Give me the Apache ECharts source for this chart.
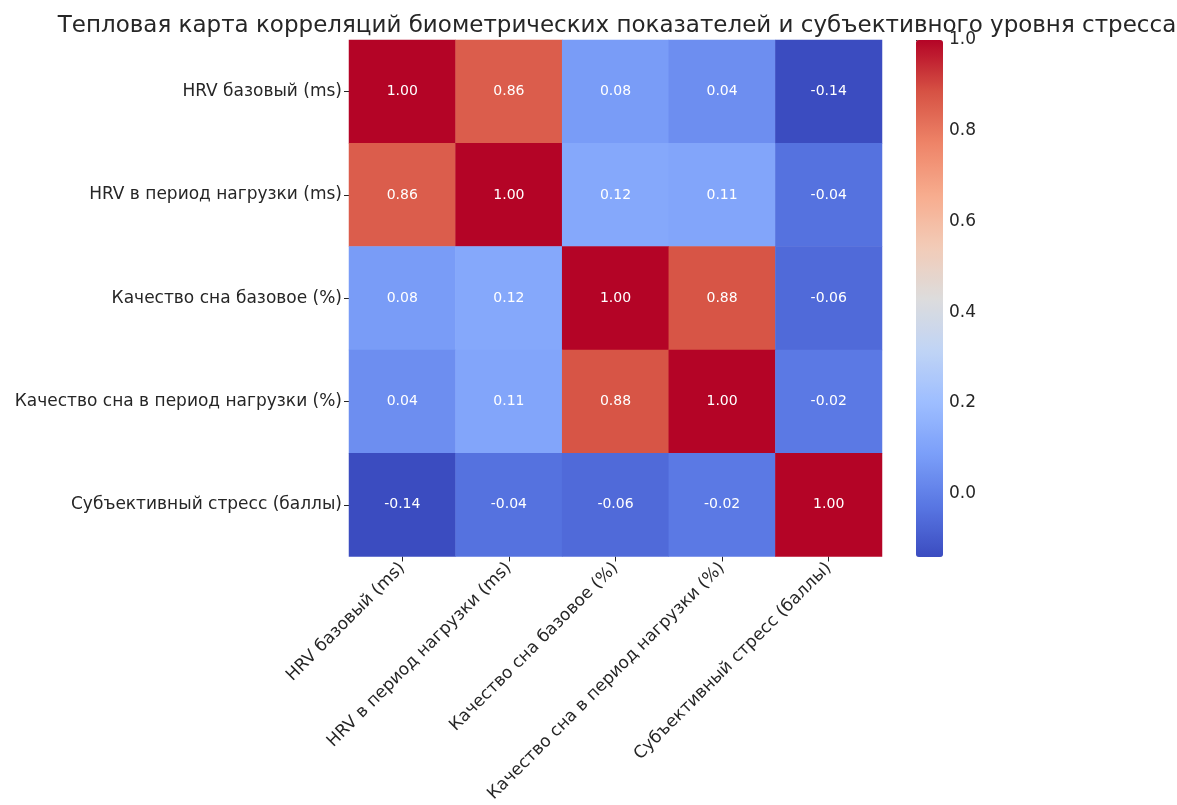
<!DOCTYPE html>
<html>
<head>
<meta charset="utf-8">
<script src="https://cdn.jsdelivr.net/npm/echarts@6/dist/echarts.min.js"></script>
<style>
  html, body { margin: 0; padding: 0; background: #fff; }
  #chart { width: 1177px; height: 805px; }
</style>
</head>
<body>
<div id="chart"></div>
<script>
// подписи показателей
const labels = [
  'HRV базовый (ms)',
  'HRV в период нагрузки (ms)',
  'Качество сна базовое (%)',
  'Качество сна в период нагрузки (%)',
  'Субъективный стресс (баллы)'
];
// матрица корреляций, строки сверху вниз
const row0 = [1.00, 0.86, 0.08, 0.04, -0.14];
const row1 = [0.86, 1.00, 0.12, 0.11, -0.04];
const row2 = [0.08, 0.12, 1.00, 0.88, -0.06];
const row3 = [0.04, 0.11, 0.88, 1.00, -0.02];
const row4 = [-0.14, -0.04, -0.06, -0.02, 1.00];
const rows = [row0, row1, row2, row3, row4];
const colorbarTicks = [0, 0.2, 0.4, 0.6, 0.8, 1.0];
const vMin = -0.14;
const vMax = 1.0;

// coolwarm
const coolwarm = ['#3b4cc0', '#5977e3', '#7b9ff9', '#9ebeff', '#c0d4f5', '#dddcdc',
  '#f2cbb7', '#f7ac8e', '#ee8468', '#d65244', '#b40426'];

let cells = [];
rows.forEach((r, y) => r.forEach((v, x) => cells.push([x, y, v])));

const font = 'DejaVu Sans';
let chart = echarts.init(document.getElementById('chart'));

chart.setOption({
  backgroundColor: '#fff',
  animation: false,
  textStyle: { fontFamily: font },
  title: {
    text: 'Тепловая карта корреляций биометрических показателей и субъективного уровня стресса',
    left: 612,
    textAlign: 'center',
    top: 10,
    textStyle: { fontFamily: font, fontSize: 23, fontWeight: 'normal', color: '#262626' }
  },
  grid: [
    { left: 349, top: 40, width: 533, height: 517 },
    { left: 916, top: 40, width: 27, height: 517, show: false }
  ],
  xAxis: [
    {
      type: 'category', data: labels, gridIndex: 0,
      axisLine: { show: false },
      axisTick: { show: true, alignWithLabel: true, length: 5, lineStyle: { color: '#262626' } },
      axisLabel: { rotate: 45, fontSize: 17, color: '#262626', margin: 9, interval: 0 },
      splitLine: { show: false }
    },
    {
      type: 'value', gridIndex: 1, show: false, min: 0, max: 1
    }
  ],
  yAxis: [
    {
      type: 'category', data: labels, gridIndex: 0, inverse: true,
      axisLine: { show: false },
      axisTick: { show: true, alignWithLabel: true, length: 5, lineStyle: { color: '#262626' } },
      axisLabel: { fontSize: 17, color: '#262626', margin: 7, interval: 0 },
      splitLine: { show: false }
    },
    {
      type: 'value', gridIndex: 1, position: 'right', min: vMin, max: vMax,
      axisLine: { show: false },
      axisTick: { show: true, length: 5, customValues: colorbarTicks, lineStyle: { color: '#262626' } },
      axisLabel: {
        fontSize: 17, color: '#262626', margin: 6,
        customValues: colorbarTicks,
        formatter: v => v.toFixed(1)
      },
      splitLine: { show: false }
    }
  ],
  visualMap: {
    type: 'continuous',
    seriesIndex: 0,
    min: vMin,
    max: vMax,
    calculable: false,
    hoverLink: false,
    left: 916,
    top: 40,
    padding: 0,
    itemWidth: 27,
    itemHeight: 517,
    text: ['', ''],
    showLabel: false,
    inRange: { color: coolwarm }
  },
  series: [
    {
      type: 'heatmap',
      xAxisIndex: 0, yAxisIndex: 0,
      data: cells,
      label: {
        show: true,
        color: '#fff',
        fontSize: 14,
        formatter: p => p.value[2].toFixed(2)
      },
      itemStyle: { borderWidth: 0 },
      emphasis: { disabled: true }
    },
    {
      type: 'scatter',
      xAxisIndex: 1, yAxisIndex: 1,
      data: []
    }
  ]
});
</script>
</body>
</html>
